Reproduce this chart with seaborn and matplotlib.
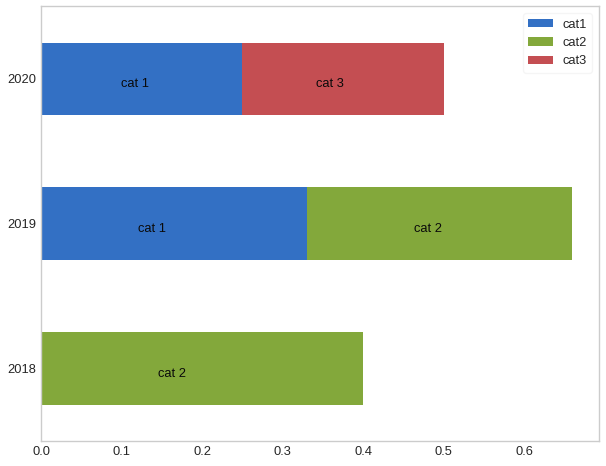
import matplotlib
matplotlib.use("Agg")
import matplotlib.pyplot as plt
from matplotlib.patches import Patch
import seaborn as sns
import pandas as pd

years = ["2020", "2019", "2018"]
cat1 = [0.25, 0.33, 0.0]
cat2 = [0.0, 0.33, 0.40]
cat3 = [0.25, 0.0, 0.0]
series_names = ["cat1", "cat2", "cat3"]
colors = ["#3370C4", "#83A83B", "#C44E52"]

# bar text labels: (year, text, x-anchor)
label_years = ["2020", "2020", "2019", "2019", "2018"]
label_texts = ["cat 1", "cat 3", "cat 1", "cat 2", "cat 2"]
label_x = [0.116, 0.359, 0.138, 0.480, 0.162]

sns.set_theme(style="white")
plt.rcParams["font.family"] = ["Liberation Sans", "DejaVu Sans"]

W, H = 606, 466
fig = plt.figure(figsize=(W / 100, H / 100), dpi=100)
ax = fig.add_axes([41.3 / W, 1 - 441 / H, (599 - 41.3) / W, (441 - 6.3) / H])

df = pd.DataFrame({"year": years, "cat1": cat1, "cat2": cat2, "cat3": cat3})
df["c12"] = df["cat1"] + df["cat2"]
df["c123"] = df["c12"] + df["cat3"]

for col, color in zip(["c123", "c12", "cat1"], colors[::-1]):
    sns.barplot(data=df, x=col, y="year", order=years, orient="h", color=color,
                saturation=1, width=0.5, linewidth=0, ax=ax, errorbar=None)

fs = 9.3
ypos = {y: i for i, y in enumerate(years)}
for yr, txt, xx in zip(label_years, label_texts, label_x):
    ax.text(xx, ypos[yr] + 0.035, txt, ha="center", va="center", fontsize=fs, color="#0a0a0a")

ax.set_xlim(0, max(df["c123"]) * 1.05)
ax.set_ylim(2.5, -0.5)
ax.set_xlabel("")
ax.set_ylabel("")
ax.set_xticks([0.0, 0.1, 0.2, 0.3, 0.4, 0.5, 0.6])
ax.set_xticklabels(["0.0", "0.1", "0.2", "0.3", "0.4", "0.5", "0.6"])
ax.tick_params(axis="both", length=0, labelsize=fs, colors="#262626", pad=3.5)
for s in ax.spines.values():
    s.set_color("#cccccc")
    s.set_linewidth(1)

handles = [Patch(facecolor=c, edgecolor="none", label=n) for c, n in zip(colors, series_names)]
leg = ax.legend(handles=handles, loc="upper right", fontsize=fs, frameon=True,
                handlelength=1.9, handleheight=0.6, handletextpad=0.75,
                borderpad=0.4, labelspacing=0.5, borderaxespad=0.55)
leg.get_frame().set_facecolor("white")
leg.get_frame().set_edgecolor("#f3f3f3")
leg.get_frame().set_alpha(0.8)
for t in leg.get_texts():
    t.set_color("#262626")

fig.savefig("out.png", dpi=100)
